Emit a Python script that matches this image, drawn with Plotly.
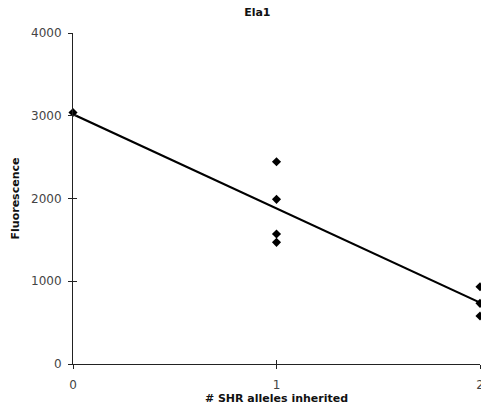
import numpy as np
import plotly.graph_objects as go

# SHR alleles inherited vs. Ela1 fluorescence
alleles = [0, 1, 1, 1, 1, 2, 2, 2]
fluorescence = [3040, 2445, 1990, 1571, 1470, 934, 733, 580]

x_ticks = [0, 1, 2]
y_ticks = [0, 1000, 2000, 3000, 4000]

# least-squares trend line through the points
slope, intercept = np.polyfit(alleles, fluorescence, 1)
trend_x = [0, 2]
trend_y = [intercept + slope * v for v in trend_x]

FONT = "DejaVu Sans"

fig = go.Figure()
fig.add_trace(go.Scatter(
    x=trend_x, y=trend_y, mode="lines",
    line=dict(color="black", width=2.2),
    hoverinfo="skip", showlegend=False, cliponaxis=False,
))
fig.add_trace(go.Scatter(
    x=alleles, y=fluorescence, mode="markers",
    marker=dict(symbol="diamond", size=7, color="black"),
    showlegend=False, cliponaxis=False,
))

axis_common = dict(
    showgrid=False, zeroline=False, showline=True,
    linecolor="#222", linewidth=1,
    ticks="outside", ticklen=4, tickcolor="#222", tickwidth=1,
    tickfont=dict(family=FONT, size=12, color="#444"),
    ticklabeloverflow="allow", automargin=False,
)

fig.update_layout(
    width=481, height=406,
    margin=dict(l=73, r=1, t=33, b=42),
    paper_bgcolor="white", plot_bgcolor="white",
    title=dict(text="<b>Ela1</b>", x=0.535, xanchor="center", y=0.97, yanchor="middle",
               font=dict(family=FONT, size=11, color="#111")),
    xaxis=dict(
        range=[0, 2], tickvals=x_ticks, ticktext=[str(v) for v in x_ticks],
        title=dict(text="<b># SHR alleles inherited</b>", standoff=0,
                   font=dict(family=FONT, size=11, color="#111")),
        ticklabelstandoff=6,
        **axis_common,
    ),
    yaxis=dict(
        range=[0, 4000], tickvals=y_ticks, ticktext=[str(v) for v in y_ticks],
        title=dict(text="<b>Fluorescence</b>", standoff=9,
                   font=dict(family=FONT, size=11, color="#111")),
        ticklabelstandoff=4,
        **axis_common,
    ),
    # second set of axes supplies the inward half of the crossing tick marks
    xaxis2=dict(overlaying="x", matches="x", range=[0, 2], tickvals=x_ticks,
                showticklabels=False, showgrid=False, zeroline=False,
                showline=False, ticks="inside", ticklen=4, tickcolor="#222",
                side="bottom", automargin=False),
    yaxis2=dict(overlaying="y", matches="y", range=[0, 4000], tickvals=y_ticks,
                showticklabels=False, showgrid=False, zeroline=False,
                showline=False, ticks="inside", ticklen=4, tickcolor="#222",
                side="left", automargin=False),
)
fig.add_trace(go.Scatter(x=[None], y=[None], xaxis="x2", yaxis="y2",
                         showlegend=False, hoverinfo="skip"))

fig.write_html("out.html")
